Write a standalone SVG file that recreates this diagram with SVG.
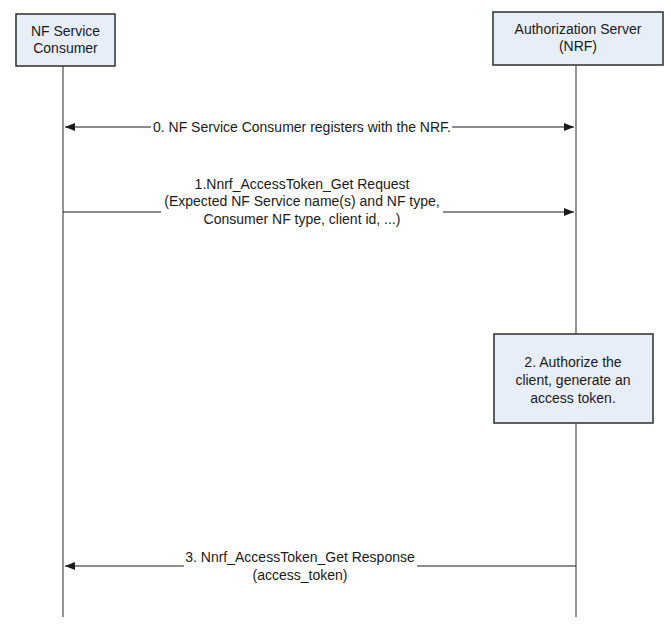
<svg xmlns="http://www.w3.org/2000/svg" width="671" height="629" viewBox="0 0 671 629">
<style>
.box{fill:#e8eef8;stroke:#3a3a3a;stroke-width:1.6}
.life{stroke:#7a7a7a;stroke-width:1.6;fill:none}
.msg{stroke:#1a1a1a;stroke-width:1.2;fill:none}
text{font-family:"Liberation Sans",Arial,sans-serif;font-size:14px;fill:#1a1a1a;text-anchor:middle}
</style>
<defs>
<marker id="ah" viewBox="0 0 10 10" refX="10" refY="5" markerWidth="14" markerHeight="10" markerUnits="userSpaceOnUse" orient="auto">
<path d="M0,1 L10,5 L0,9 z" fill="#1a1a1a"/>
</marker>
</defs>
<g id="lifelines">
<line class="life" x1="63" y1="66" x2="63" y2="617"/>
<line class="life" x1="576" y1="65" x2="576" y2="334"/>
<line class="life" x1="576" y1="423" x2="576" y2="617"/>
</g>
<g id="consumer">
<rect class="box" x="16" y="14" width="99" height="52"/>
<text x="65.5" y="36">NF Service</text>
<text x="65.5" y="53">Consumer</text>
</g>
<g id="nrf">
<rect class="box" x="493" y="12" width="170" height="53"/>
<text x="578" y="34">Authorization Server</text>
<text x="578" y="51">(NRF)</text>
</g>
<g id="step2">
<rect class="box" x="494" y="334" width="159" height="89"/>
<text x="573" y="367">2. Authorize the</text>
<text x="573" y="385">client, generate an</text>
<text x="573" y="403">access token.</text>
</g>
<g id="connectors">
<line class="msg" x1="151" y1="127" x2="65" y2="127" marker-end="url(#ah)"/>
<line class="msg" x1="452" y1="127" x2="574" y2="127" marker-end="url(#ah)"/>
<text x="302" y="132">0. NF Service Consumer registers with the NRF.</text>
<line class="msg" x1="63" y1="212" x2="161" y2="212"/>
<line class="msg" x1="443" y1="212" x2="574" y2="212" marker-end="url(#ah)"/>
<text x="302" y="189">1.Nnrf_AccessToken_Get Request</text>
<text x="302" y="206">(Expected NF Service name(s) and NF type,</text>
<text x="302" y="224">Consumer NF type, client id, ...)</text>
<line class="msg" x1="184" y1="566" x2="65" y2="566" marker-end="url(#ah)"/>
<line class="msg" x1="417" y1="566" x2="576" y2="566"/>
<text x="300" y="562">3. Nnrf_AccessToken_Get Response</text>
<text x="300" y="580">(access_token)</text>
</g>
</svg>
